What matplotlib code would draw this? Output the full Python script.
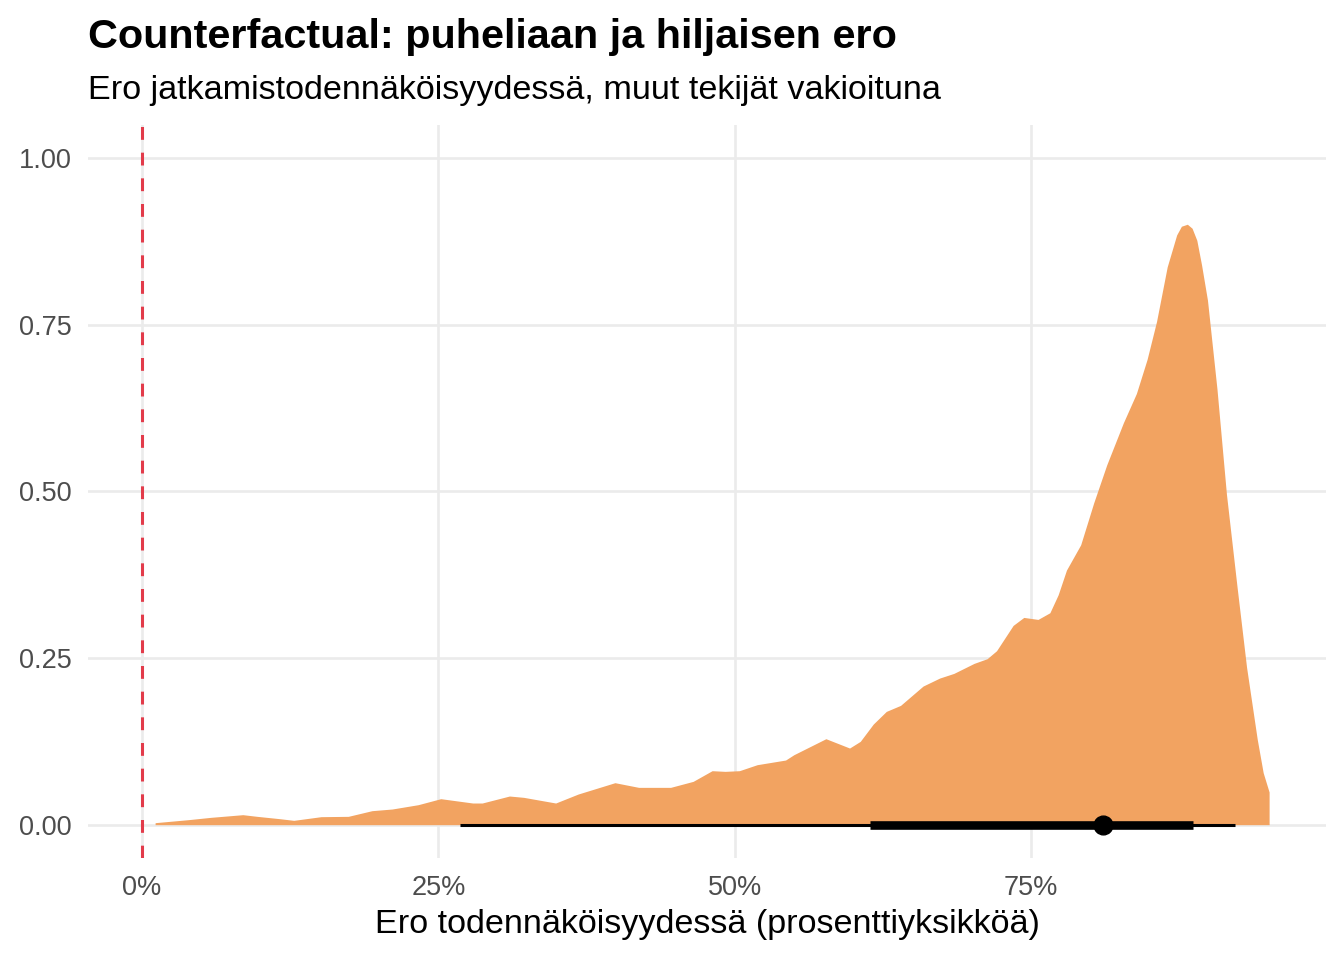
import matplotlib
matplotlib.use('Agg')
import matplotlib.pyplot as plt
from matplotlib.ticker import FuncFormatter

plt.rcParams['font.family'] = ['Liberation Sans', 'DejaVu Sans']

# --- Data ---
dens_x = [0.011, 0.039, 0.058, 0.085, 0.097, 0.116, 0.128, 0.151, 0.174, 0.194,
          0.211, 0.233, 0.252, 0.279, 0.287, 0.310, 0.322, 0.349, 0.368, 0.399,
          0.419, 0.446, 0.465, 0.481, 0.492, 0.504, 0.519, 0.543, 0.550, 0.577,
          0.597, 0.606, 0.617, 0.628, 0.640, 0.659, 0.673, 0.685, 0.702, 0.713,
          0.721, 0.735, 0.744, 0.756, 0.766, 0.773, 0.780, 0.792, 0.803, 0.814,
          0.828, 0.839, 0.848, 0.856, 0.865, 0.873, 0.877, 0.882, 0.886, 0.890,
          0.894, 0.899, 0.907, 0.915, 0.924, 0.932, 0.941, 0.946, 0.951]
dens_y = [0.003, 0.0075, 0.011, 0.015, 0.0125, 0.009, 0.0065, 0.012, 0.0125, 0.021,
          0.0235, 0.030, 0.039, 0.0325, 0.0325, 0.043, 0.041, 0.0325, 0.046, 0.063,
          0.056, 0.056, 0.065, 0.081, 0.080, 0.081, 0.090, 0.097, 0.105, 0.129,
          0.115, 0.125, 0.151, 0.170, 0.179, 0.208, 0.220, 0.227, 0.242, 0.249,
          0.261, 0.299, 0.311, 0.308, 0.318, 0.345, 0.382, 0.420, 0.483, 0.540,
          0.603, 0.647, 0.698, 0.755, 0.837, 0.885, 0.898, 0.901, 0.895, 0.877,
          0.840, 0.787, 0.654, 0.496, 0.356, 0.236, 0.128, 0.078, 0.049]

point_est = 0.811
interval_66 = [0.614, 0.887]
interval_95 = [0.268, 0.922]

x_ticks = [0, 0.25, 0.5, 0.75]
y_ticks = [0, 0.25, 0.5, 0.75, 1.0]

fig = plt.figure(figsize=(13.44, 9.6), dpi=100)
ax = fig.add_axes([0.0655, 0.10625, 0.9211, 0.7636])

# density slab
ax.fill_between([dens_x[0]] + dens_x + [dens_x[-1]], [0] + dens_y + [0],
                0, color='#F2A361', linewidth=0, zorder=2)

# reference line at zero
ax.axvline(0, color='#E23B4A', linestyle=(0, (4.2, 4.2)), linewidth=2.2, zorder=3)

# point + intervals
ax.plot(interval_95, [0, 0], color='black', linewidth=2.2, solid_capstyle='butt', zorder=4)
ax.plot(interval_66, [0, 0], color='black', linewidth=6.2, solid_capstyle='butt', zorder=5)
ax.plot([point_est], [0], 'o', color='black', markersize=13.5, zorder=6)

ax.set_xlim(-0.0456, 0.999)
ax.set_ylim(-0.05, 1.05)
ax.set_xticks(x_ticks)
ax.set_yticks(y_ticks)
ax.xaxis.set_major_formatter(FuncFormatter(lambda v, p: f'{v*100:.0f}%'))
ax.yaxis.set_major_formatter(FuncFormatter(lambda v, p: f'{v:.2f}'))
ax.grid(True, color='#EBEBEB', linewidth=1.9, zorder=0)
ax.set_axisbelow(True)
for s in ax.spines.values():
    s.set_visible(False)
ax.tick_params(length=0, labelsize=19.5, labelcolor='#4D4D4D')
ax.tick_params(axis='y', pad=12)
ax.tick_params(axis='x', pad=12)

ax.set_xlabel('Ero todennäköisyydessä (prosenttiyksikköä)', fontsize=24.6, labelpad=6)

fig.text(0.0655, 1 - 48 / 960, 'Counterfactual: puheliaan ja hiljaisen ero',
         fontsize=29.8, fontweight='bold', ha='left', va='baseline')
fig.text(0.0655, 1 - 99 / 960, 'Ero jatkamistodennäköisyydessä, muut tekijät vakioituna',
         fontsize=24.6, ha='left', va='baseline')

fig.savefig('out.png', dpi=100, facecolor='white')
